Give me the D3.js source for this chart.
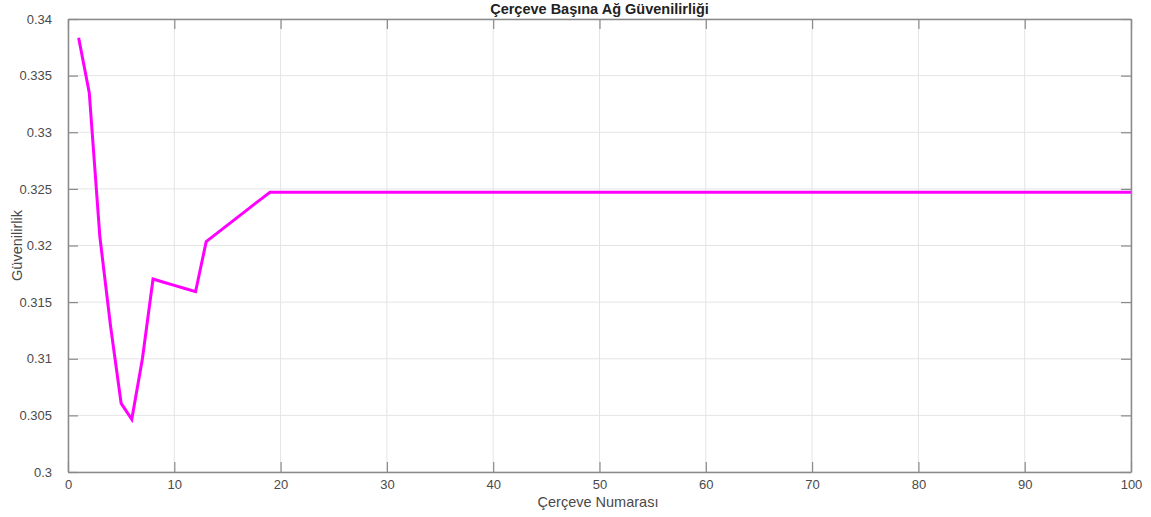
<!DOCTYPE html>
<html>
<head>
<meta charset="utf-8">
<script src="https://cdn.jsdelivr.net/npm/d3@7"></script>
<style>
  html, body { margin: 0; padding: 0; background: #fff; }
  svg { display: block; font-family: "Liberation Sans", Arial, sans-serif; }
</style>
</head>
<body>
<svg id="chart" width="1151" height="517"></svg>
<script>
// Frame numbers 1..100 and network reliability per frame
const frames = d3.range(1, 101);
const reliability = [
  0.33835, 0.33349, 0.32075, 0.31290, 0.30606, 0.30465, 0.31000, 0.31704, 0.31676, 0.31648,
  0.31620, 0.31592, 0.32034, 0.32107, 0.32180, 0.32253, 0.32326, 0.32399, 0.32470, 0.32470,
  0.32470, 0.32470, 0.32470, 0.32470, 0.32470, 0.32470, 0.32470, 0.32470, 0.32470, 0.32470,
  0.32470, 0.32470, 0.32470, 0.32470, 0.32470, 0.32470, 0.32470, 0.32470, 0.32470, 0.32470,
  0.32470, 0.32470, 0.32470, 0.32470, 0.32470, 0.32470, 0.32470, 0.32470, 0.32470, 0.32470,
  0.32470, 0.32470, 0.32470, 0.32470, 0.32470, 0.32470, 0.32470, 0.32470, 0.32470, 0.32470,
  0.32470, 0.32470, 0.32470, 0.32470, 0.32470, 0.32470, 0.32470, 0.32470, 0.32470, 0.32470,
  0.32470, 0.32470, 0.32470, 0.32470, 0.32470, 0.32470, 0.32470, 0.32470, 0.32470, 0.32470,
  0.32470, 0.32470, 0.32470, 0.32470, 0.32470, 0.32470, 0.32470, 0.32470, 0.32470, 0.32470,
  0.32470, 0.32470, 0.32470, 0.32470, 0.32470, 0.32470, 0.32470, 0.32470, 0.32470, 0.32470
];
const xTicks = [0, 10, 20, 30, 40, 50, 60, 70, 80, 90, 100];
const yTicks = [0.3, 0.305, 0.31, 0.315, 0.32, 0.325, 0.33, 0.335, 0.34];

const titleText = "Çerçeve Başına Ağ Güvenilirliği";
const xLabelText = "Çerçeve Numarası";
const yLabelText = "Güvenilirlik";

const svg = d3.select("#chart");
const L = 68, R = 1131, T = 19, B = 472;

const x = d3.scaleLinear().domain([0, 100]).range([L, R]);
const y = d3.scaleLinear().domain([0.3, 0.34]).range([B, T]);

const axisColor = "#8a8a8a";
const textColor = "#4a4a4a";

// grid
const grid = svg.append("g");
grid.selectAll(".gx").data(xTicks).join("line")
  .attr("x1", d => x(d)).attr("x2", d => x(d))
  .attr("y1", T).attr("y2", B)
  .attr("stroke", "#e4e4e4").attr("stroke-width", 1);
grid.selectAll(".gy").data(yTicks).join("line")
  .attr("x1", L).attr("x2", R)
  .attr("y1", d => y(d)).attr("y2", d => y(d))
  .attr("stroke", "#e4e4e4").attr("stroke-width", 1);

// data line
const line = d3.line().x((d, i) => x(frames[i])).y(d => y(d));
svg.append("path")
  .datum(reliability)
  .attr("d", line)
  .attr("fill", "none")
  .attr("stroke", "#ff00ff")
  .attr("stroke-width", 3)
  .attr("stroke-linejoin", "miter");

// axes with inward ticks on all four sides
function styleAxis(g) {
  g.select(".domain").attr("stroke", axisColor).attr("stroke-width", 1.5);
  g.selectAll(".tick line").attr("stroke", axisColor).attr("stroke-width", 1.2);
  g.selectAll(".tick text").attr("fill", textColor).style("font-size", "13px")
    .style("font-family", "'Liberation Sans', Arial, sans-serif");
}

const fmtY = d => d3.format("")(+d.toFixed(3));

svg.append("g").attr("transform", `translate(0,${B})`)
  .call(d3.axisBottom(x).tickValues(xTicks).tickSizeInner(-10).tickSizeOuter(0).tickPadding(8))
  .call(styleAxis);
svg.append("g").attr("transform", `translate(0,${T})`)
  .call(d3.axisTop(x).tickValues(xTicks).tickSizeInner(-10).tickSizeOuter(0).tickFormat(""))
  .call(styleAxis);
svg.append("g").attr("transform", `translate(${L},0)`)
  .call(d3.axisLeft(y).tickValues(yTicks).tickSizeInner(-10).tickSizeOuter(0).tickPadding(16).tickFormat(fmtY))
  .call(styleAxis);
svg.append("g").attr("transform", `translate(${R},0)`)
  .call(d3.axisRight(y).tickValues(yTicks).tickSizeInner(-10).tickSizeOuter(0).tickFormat(""))
  .call(styleAxis);

// title and labels
svg.append("text")
  .attr("x", (L + R) / 2).attr("y", 14)
  .attr("text-anchor", "middle")
  .attr("fill", "#222")
  .style("font-size", "14.5px").style("font-weight", "bold")
  .text(titleText);

svg.append("text")
  .attr("x", 598).attr("y", 507)
  .attr("text-anchor", "middle")
  .attr("fill", textColor)
  .style("font-size", "14.5px")
  .text(xLabelText);

svg.append("text")
  .attr("transform", `translate(22,${(T + B) / 2}) rotate(-90)`)
  .attr("text-anchor", "middle")
  .attr("fill", textColor)
  .style("font-size", "14.5px")
  .text(yLabelText);
</script>
</body>
</html>
